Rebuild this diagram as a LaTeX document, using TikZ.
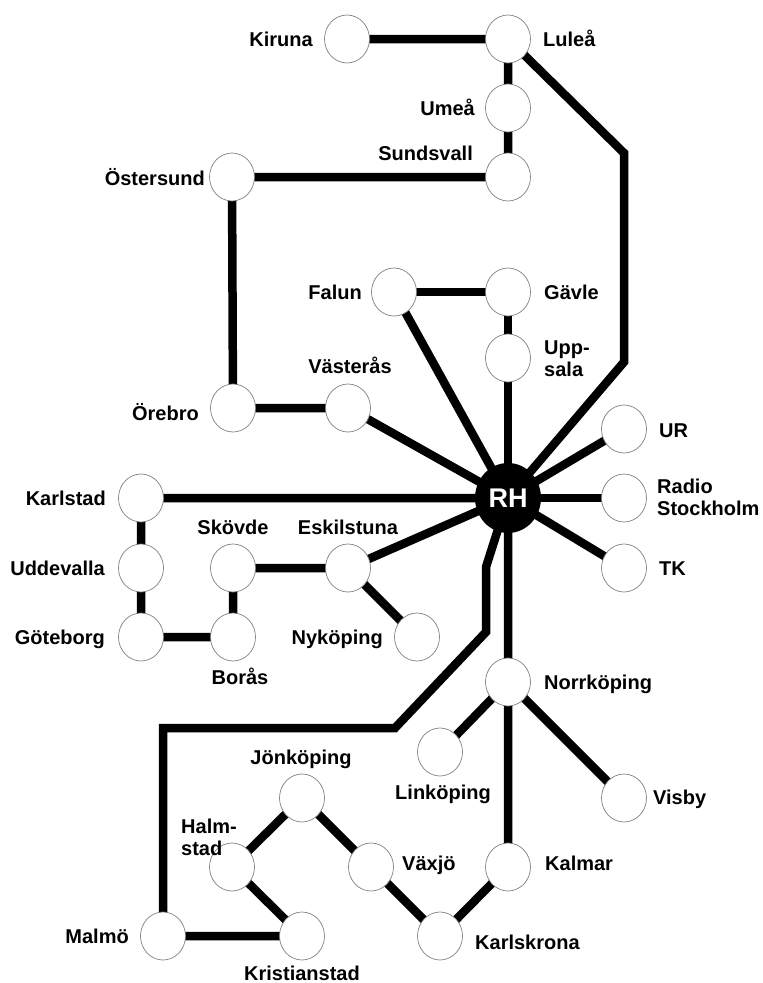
\documentclass[tikz,border=0pt]{standalone}
\usepackage{fontspec}
\setmainfont{Liberation Sans}
\usetikzlibrary{shapes.geometric}
\pgfdeclarelayer{bg}
\pgfsetlayers{bg,main}
\tikzset{
  stn/.style={ellipse, draw=black!50, line width=0.7pt, fill=white, minimum width=45pt, minimum height=48pt, inner sep=0pt},
  hub/.style={ellipse, fill=black, minimum width=66pt, minimum height=70pt, inner sep=0pt, text=white, font=\bfseries\fontsize{27}{30}\selectfont},
  lbl/.style={inner sep=0pt, font=\bfseries\fontsize{20}{22}\selectfont, align=left},
  rail/.style={line width=8.5pt, line join=miter}
}
\begin{document}
\begin{tikzpicture}[x=1pt, y=-1pt]
\useasboundingbox (0,0) rectangle (763,983);
% stations
\node[hub] (RH) at (508,498) {RH};
\node[stn] (kir) at (347,39) {};
\node[stn] (lul) at (508,39) {};
\node[stn] (ume) at (508,108) {};
\node[stn] (sun) at (508,177) {};
\node[stn] (ost) at (232,177) {};
\node[stn] (fal) at (394,292) {};
\node[stn] (gav) at (508,292) {};
\node[stn] (upp) at (508,358) {};
\node[stn] (vas) at (348,408) {};
\node[stn] (ore) at (233,408) {};
\node[stn] (ur)  at (624,429) {};
\node[stn] (rad) at (624,498) {};
\node[stn] (tk)  at (624,568) {};
\node[stn] (kar) at (141,498) {};
\node[stn] (udd) at (141,568) {};
\node[stn] (got) at (141,637) {};
\node[stn] (sko) at (233,568) {};
\node[stn] (bor) at (233,637) {};
\node[stn] (esk) at (348,568) {};
\node[stn] (nyk) at (417,637) {};
\node[stn] (nor) at (508,682) {};
\node[stn] (lin) at (440,752) {};
\node[stn] (vis) at (624,798) {};
\node[stn] (kal) at (508,867) {};
\node[stn] (kkr) at (440,936) {};
\node[stn] (vax) at (371,867) {};
\node[stn] (jon) at (302,798) {};
\node[stn] (hal) at (232,867) {};
\node[stn] (kri) at (302,936) {};
\node[stn] (mal) at (163,936) {};
% bends
\coordinate (b1) at (624,153);
\coordinate (b2) at (624,362);
\coordinate (m1) at (486,567);
\coordinate (m2) at (486,632);
\coordinate (m3) at (395,728);
\coordinate (m4) at (163,728);
% labels
\node[lbl, anchor=base east] (kirL) at (313,46) {Kiruna};
\node[lbl, anchor=base west] (lulL) at (543,46) {Luleå};
\node[lbl, anchor=base east] (umeL) at (475,115) {Umeå};
\node[lbl, anchor=base east] (sunL) at (473,160) {Sundsvall};
\node[lbl, anchor=base east] (ostL) at (205,185) {Östersund};
\node[lbl, anchor=base east] (falL) at (362,299) {Falun};
\node[lbl, anchor=base west] (gavL) at (544,299) {Gävle};
\node[lbl, anchor=west] (uppL) at (544,359) {Upp-\\sala};
\node[lbl, anchor=base] (vasL) at (350,373) {Västerås};
\node[lbl, anchor=base east] (oreL) at (199,420) {Örebro};
\node[lbl, anchor=base west] (urL) at (659,437) {UR};
\node[lbl, anchor=west] (radL) at (657,497) {Radio\\Stockholm};
\node[lbl, anchor=base west] (tkL) at (659,575) {TK};
\node[lbl, anchor=base east] (karL) at (106,505) {Karlstad};
\node[lbl, anchor=base east] (uddL) at (105,575) {Uddevalla};
\node[lbl, anchor=base east] (gotL) at (105,644) {Göteborg};
\node[lbl, anchor=base] (skoL) at (233,534) {Skövde};
\node[lbl, anchor=base] (eskL) at (348,534) {Eskilstuna};
\node[lbl, anchor=base east] (nykL) at (383,644) {Nyköping};
\node[lbl, anchor=base] (borL) at (240,684) {Borås};
\node[lbl, anchor=base west] (norL) at (544,689) {Norrköping};
\node[lbl, anchor=base] (linL) at (443,799) {Linköping};
\node[lbl, anchor=base west] (visL) at (653,804) {Visby};
\node[lbl, anchor=base] (jonL) at (301,764) {Jönköping};
\node[lbl, anchor=west] (halL) at (181,837) {Halm-\\stad};
\node[lbl, anchor=base west] (vaxL) at (402,870) {Växjö};
\node[lbl, anchor=base west] (kalL) at (545,870) {Kalmar};
\node[lbl, anchor=base west] (kkrL) at (475,949) {Karlskrona};
\node[lbl, anchor=base] (kriL) at (302,980) {Kristianstad};
\node[lbl, anchor=base east] (malL) at (129,943) {Malmö};
% connectors
\begin{pgfonlayer}{bg}
\draw[rail] (kir.center) -- (lul.center) -- (ume.center) -- (sun.center) -- (ost.center) -- (ore.center) -- (vas.center) -- (RH.center);
\draw[rail] (lul.center) -- (b1) -- (b2) -- (RH.center);
\draw[rail] (fal.center) -- (gav.center) -- (upp.center) -- (RH.center);
\draw[rail] (fal.center) -- (RH.center);
\draw[rail] (RH.center) -- (ur.center);
\draw[rail] (RH.center) -- (rad.center);
\draw[rail] (RH.center) -- (tk.center);
\draw[rail] (RH.center) -- (kar.center) -- (udd.center) -- (got.center) -- (bor.center) -- (sko.center) -- (esk.center) -- (RH.center);
\draw[rail] (esk.center) -- (nyk.center);
\draw[rail] (RH.center) -- (nor.center) -- (kal.center) -- (kkr.center) -- (vax.center) -- (jon.center) -- (hal.center) -- (kri.center) -- (mal.center);
\draw[rail] (nor.center) -- (lin.center);
\draw[rail] (nor.center) -- (vis.center);
\draw[rail] (RH.center) -- (m1) -- (m2) -- (m3) -- (m4) -- (mal.center);
\end{pgfonlayer}
\end{tikzpicture}
\end{document}
